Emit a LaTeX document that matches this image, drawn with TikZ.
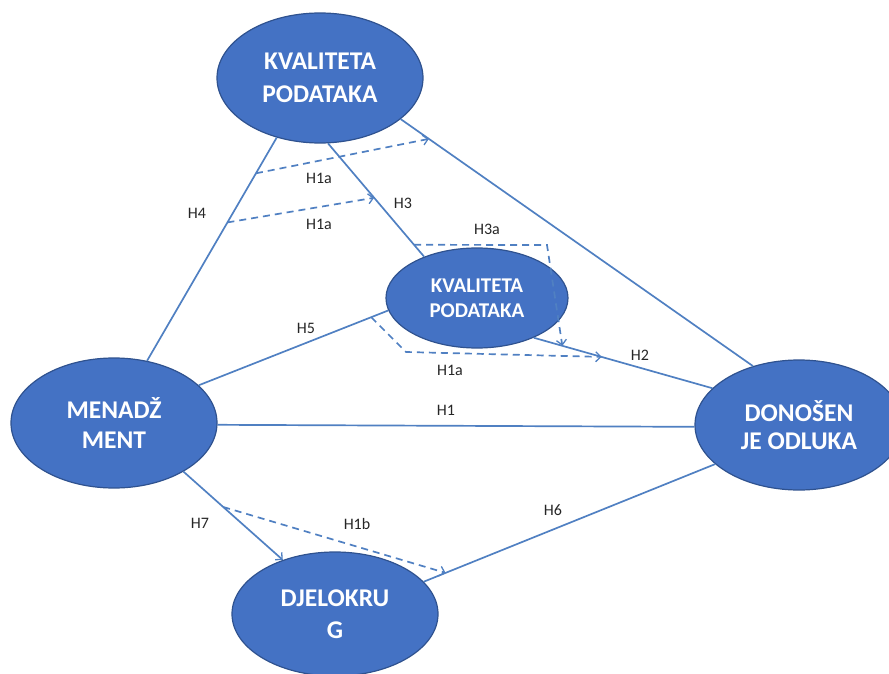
\documentclass[tikz,border=0pt]{standalone}
\usepackage{fontspec}
\setmainfont{Carlito}
\usetikzlibrary{shapes.geometric,arrows.meta}
\definecolor{bubblefill}{HTML}{4472C4}
\definecolor{bubbleline}{HTML}{2F528F}
\definecolor{linkcol}{HTML}{5080C2}
\definecolor{labcol}{HTML}{262626}
\tikzset{
  bubble/.style 2 args={ellipse,draw=bubbleline,line width=1.2pt,fill=bubblefill,inner sep=0pt,
    text=white,align=center,font=\bfseries\fontsize{#1}{#2}\selectfont},
  link/.style={draw=linkcol,line width=1.7pt},
  dlink/.style={draw=linkcol,line width=1.7pt,dash pattern=on 7pt off 5pt,
    -{Straight Barb[length=5pt,width=10pt,line width=1.3pt]}},
  tip/.style={-{Straight Barb[length=5pt,width=10pt,line width=1.3pt]}},
  lab/.style={text=labcol,font=\fontsize{16}{18}\selectfont,inner sep=0pt}
}
\begin{document}
\begin{tikzpicture}[x=1pt,y=-1pt]
\useasboundingbox (0,0) rectangle (889,674);
% nodes
\node[bubble={25.5}{33},minimum width=206pt,minimum height=130pt] (T) at (320,78) {KVALITETA\\PODATAKA};
\node[bubble={21}{25},minimum width=182pt,minimum height=100pt] (M) at (477,298) {KVALITETA\\PODATAKA};
\node[bubble={25.5}{30},minimum width=206pt,minimum height=130pt] (N) at (114,423) {MENADŽ\\MENT};
\node[bubble={25.5}{28},minimum width=208pt,minimum height=130pt] (D) at (799,425) {DONOŠEN\\JE ODLUKA};
\node[bubble={25.5}{32},minimum width=206pt,minimum height=124pt] (J) at (335,614) {DJELOKRU\\G};
% solid connectors
\path[link] (N.62) -- (T.-126)
  coordinate[pos=0.84] (h4a) coordinate[pos=0.62] (h4b);
\path[link] (T.-83) -- (M.142)
  coordinate[pos=0.48] (h3a) coordinate[pos=0.895] (h3b);
\path[link] (T.-27) -- (D.128) coordinate[pos=0.08] (tda);
\path[link] (N.24) -- (M.188) coordinate[pos=0.91] (h5a);
\path[link] (M.-35) -- (D.157) coordinate[pos=0.16] (h2a) coordinate[pos=0.38] (h2b);
\path[link] (N.-1) -- (D.181);
\path[link,tip] (N.-35) -- (J.134) coordinate[pos=0.4] (h7a);
\path[link] (J.20) -- (D.205.5) coordinate[pos=0.075] (h6a);
% dashed connectors
\draw[dlink] (h4a) -- (tda);
\draw[dlink] (h4b) -- (h3a);
\draw[dlink] (h3b) -- (547,245) -- (h2a);
\draw[dlink] (h5a) -- (406,352) -- (h2b);
\draw[dlink] (h7a) -- (h6a);
% labels
\node[lab] (l4) at (197,213) {H4};
\node[lab] (l1a1) at (319,178) {H1a};
\node[lab] (l1a2) at (319,224) {H1a};
\node[lab] (l3) at (403,203) {H3};
\node[lab] (l3a) at (487,229) {H3a};
\node[lab] (l5) at (306,328) {H5};
\node[lab] (l2) at (640,355) {H2};
\node[lab] (l1a3) at (450,370) {H1a};
\node[lab] (l1) at (446,410) {H1};
\node[lab] (l7) at (200,523) {H7};
\node[lab] (l1b) at (357,524) {H1b};
\node[lab] (l6) at (553,510) {H6};
\end{tikzpicture}
\end{document}
